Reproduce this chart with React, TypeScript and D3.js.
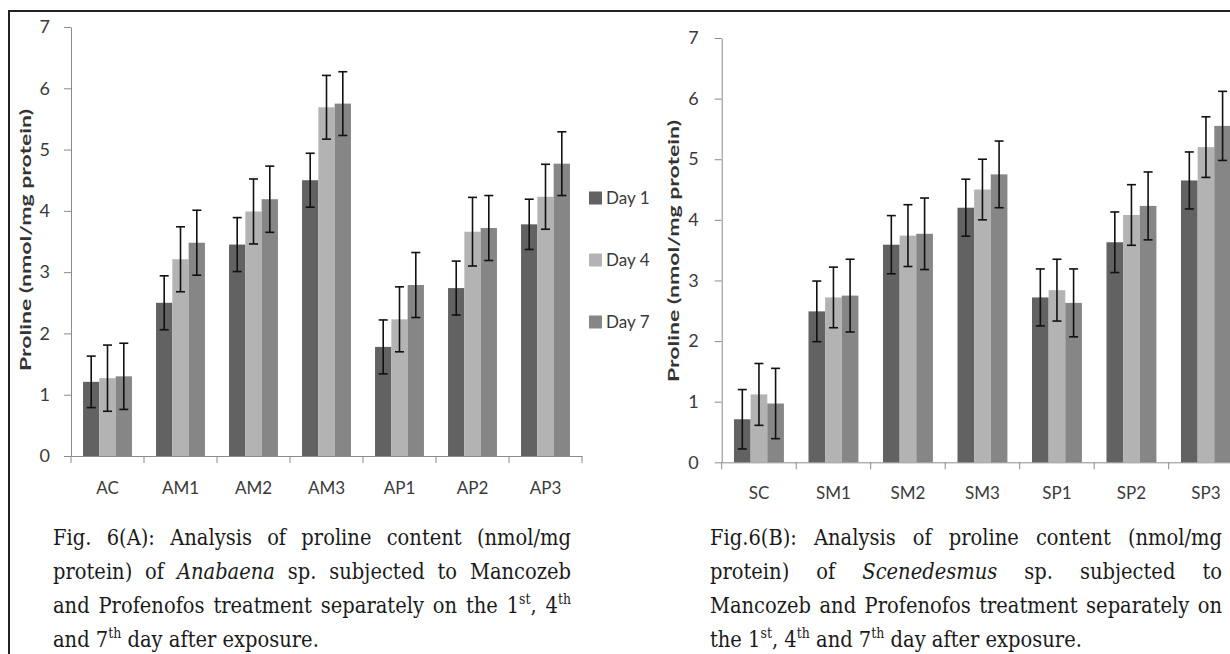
import { useEffect, useRef } from "react";
import * as d3 from "d3";

// series + colours
const days = ["Day 1", "Day 4", "Day 7"];
const dayColors = ["#626262", "#b3b3b3", "#868686"];
const yTicks = [0, 1, 2, 3, 4, 5, 6, 7];

// Fig 6(A) Anabaena
const catsA = ["AC", "AM1", "AM2", "AM3", "AP1", "AP2", "AP3"];
const day1A = [1.21, 2.5, 3.45, 4.5, 1.78, 2.74, 3.78];
const day4A = [1.27, 3.21, 3.99, 5.69, 2.23, 3.66, 4.23];
const day7A = [1.3, 3.48, 4.19, 5.75, 2.79, 3.72, 4.77];
const err1A = [0.42, 0.44, 0.44, 0.44, 0.44, 0.44, 0.41];
const err4A = [0.54, 0.53, 0.53, 0.52, 0.53, 0.56, 0.53];
const err7A = [0.54, 0.53, 0.54, 0.52, 0.53, 0.53, 0.52];

// Fig 6(B) Scenedesmus
const catsB = ["SC", "SM1", "SM2", "SM3", "SP1", "SP2", "SP3"];
const day1B = [0.71, 2.49, 3.59, 4.2, 2.72, 3.63, 4.65];
const day4B = [1.12, 2.72, 3.74, 4.5, 2.84, 4.08, 5.2];
const day7B = [0.97, 2.75, 3.77, 4.75, 2.63, 4.23, 5.55];
const err1B = [0.49, 0.5, 0.48, 0.47, 0.47, 0.5, 0.47];
const err4B = [0.51, 0.5, 0.51, 0.5, 0.51, 0.5, 0.5];
const err7B = [0.58, 0.6, 0.59, 0.55, 0.56, 0.56, 0.57];

const yTitle = "Proline (nmol/mg protein)";

// captions: _italic_ and ^superscript^
const captionA = [
  "Fig. 6(A): Analysis of proline content (nmol/mg",
  "protein) of _Anabaena_ sp. subjected to Mancozeb",
  "and Profenofos treatment separately on the 1^st^, 4^th^",
  "and 7^th^ day after exposure.",
];
const captionB = [
  "Fig.6(B): Analysis of proline content (nmol/mg",
  "protein) of _Scenedesmus_ sp. subjected to",
  "Mancozeb and Profenofos treatment separately on",
  "the 1^st^, 4^th^ and 7^th^ day after exposure.",
];

const SANS = "Lato, 'Open Sans', sans-serif";
const SERIF = "'DejaVu Serif', serif";

type Panel = {
  cats: string[];
  vals: number[][];
  errs: number[][];
  x0: number;
  x1: number;
  yBase: number;
  yTop: number;
  labelPad: number;
  tickPad: number;
  titleX: number;
  titleY: number;
};

function drawPanel(svg: any, p: Panel) {
  const x = d3.scaleBand().domain(p.cats).range([p.x0, p.x1]).paddingInner(0.33).paddingOuter(0.165);
  const xs = d3.scaleBand().domain(days).range([0, x.bandwidth()]);
  const y = d3.scaleLinear().domain([0, 7]).range([p.yBase, p.yTop]);

  const ya = svg.append("g").attr("transform", `translate(${p.x0},0)`)
    .call(d3.axisLeft(y).tickValues(yTicks).tickSize(7).tickSizeOuter(0).tickPadding(p.tickPad).tickFormat(d3.format("d")));
  ya.select(".domain").attr("stroke", "#8a8a8a");
  ya.selectAll(".tick line").attr("stroke", "#8a8a8a");
  ya.selectAll("text").attr("font-family", SANS).attr("font-size", 18).attr("fill", "#3a3a3a");

  const xa = svg.append("g").attr("transform", `translate(0,${p.yBase})`)
    .call(d3.axisBottom(x).tickSize(0).tickPadding(p.labelPad));
  xa.select(".domain").attr("stroke", "#8a8a8a");
  xa.selectAll("text").attr("font-family", SANS).attr("font-size", 17).attr("fill", "#3a3a3a");
  // boundary ticks between categories
  xa.selectAll(".bnd").data(d3.range(p.cats.length + 1)).join("line")
    .attr("x1", (i: number) => p.x0 + i * x.step()).attr("x2", (i: number) => p.x0 + i * x.step())
    .attr("y1", 0).attr("y2", 7).attr("stroke", "#8a8a8a");

  days.forEach((day, s) => {
    const g = svg.append("g");
    g.selectAll("rect").data(p.cats).join("rect")
      .attr("x", (c: string) => (x(c) as number) + (xs(day) as number))
      .attr("width", xs.bandwidth())
      .attr("y", (_: string, i: number) => y(p.vals[s][i]))
      .attr("height", (_: string, i: number) => p.yBase - y(p.vals[s][i]))
      .attr("fill", dayColors[s]);
  });

  days.forEach((day, s) => {
    const g = svg.append("g").attr("stroke", "#111").attr("stroke-width", 1.6);
    p.cats.forEach((c, i) => {
      const cx = (x(c) as number) + (xs(day) as number) + xs.bandwidth() / 2;
      const hi = y(p.vals[s][i] + p.errs[s][i]);
      const lo = y(p.vals[s][i] - p.errs[s][i]);
      g.append("line").attr("x1", cx).attr("x2", cx).attr("y1", hi).attr("y2", lo);
      g.append("line").attr("x1", cx - 4.5).attr("x2", cx + 4.5).attr("y1", hi).attr("y2", hi);
      g.append("line").attr("x1", cx - 4.5).attr("x2", cx + 4.5).attr("y1", lo).attr("y2", lo);
    });
  });

  svg.append("text")
    .attr("transform", `translate(${p.titleX},${p.titleY}) rotate(-90)`)
    .attr("text-anchor", "middle").attr("dy", "0.35em")
    .attr("font-family", SANS).attr("font-weight", 700).attr("font-size", 16).attr("fill", "#333")
    .attr("textLength", 262).attr("lengthAdjust", "spacingAndGlyphs")
    .text(yTitle);
}

function parseWord(w: string) {
  const segs: { t: string; i: boolean; sup: boolean }[] = [];
  const re = /(_[^_]+_|\^[^^]+\^|[^_^]+)/g;
  let m;
  while ((m = re.exec(w))) {
    const s = m[0];
    if (s.startsWith("_")) segs.push({ t: s.slice(1, -1), i: true, sup: false });
    else if (s.startsWith("^")) segs.push({ t: s.slice(1, -1), i: false, sup: true });
    else segs.push({ t: s, i: false, sup: false });
  }
  return segs;
}

function drawCaption(svg: any, lines: string[], left: number, right: number, top: number, lh: number) {
  lines.forEach((line, li) => {
    const justify = li < lines.length - 1;
    const g = svg.append("g").attr("transform", `translate(0,${top + li * lh}) scale(1,1.12)`);
    const words = line.split(" ").map((w) => {
      const t = g.append("text").attr("font-family", SERIF).attr("font-size", 19.5).attr("fill", "#1a1a1a");
      let raised = false;
      parseWord(w).forEach((sg) => {
        const ts = t.append("tspan").text(sg.t);
        if (sg.i) ts.attr("font-style", "italic");
        if (sg.sup) { ts.attr("font-size", 12.5).attr("dy", -8); raised = true; }
        else if (raised) { ts.attr("dy", 8); raised = false; }
      });
      return t;
    });
    const widths = words.map((t: any) => (t.node() as SVGTextElement).getComputedTextLength());
    const total = d3.sum(widths);
    const gap = justify ? (right - left - total) / (words.length - 1) : 6.2;
    let cx = left;
    words.forEach((t: any, k: number) => {
      t.attr("x", cx);
      cx += widths[k] + gap;
    });
  });
}

export default function App() {
  const ref = useRef<SVGSVGElement>(null);

  useEffect(() => {
    const svg = d3.select(ref.current);
    svg.selectAll("*").remove();

    svg.append("rect").attr("width", 1230).attr("height", 654).attr("fill", "#fff");
    // cropped frame
    svg.append("path").attr("d", "M9,654V11H1230").attr("fill", "none").attr("stroke", "#222").attr("stroke-width", 2);

    drawPanel(svg, {
      cats: catsA, vals: [day1A, day4A, day7A], errs: [err1A, err4A, err7A],
      x0: 71, x1: 582, yBase: 456, yTop: 27, labelPad: 26, tickPad: 14, titleX: 25, titleY: 240,
    });
    drawPanel(svg, {
      cats: catsB, vals: [day1B, day4B, day7B], errs: [err1B, err4B, err7B],
      x0: 721.7, x1: 1243.2, yBase: 462.3, yTop: 38, labelPad: 25, tickPad: 16, titleX: 673, titleY: 251,
    });

    // legend for panel A
    const lg = svg.append("g");
    days.forEach((d, i) => {
      const cy = 198 + i * 62;
      lg.append("rect").attr("x", 589).attr("y", cy - 6.5).attr("width", 13).attr("height", 13).attr("fill", dayColors[i]);
      lg.append("text").attr("x", 606).attr("y", cy).attr("dy", "0.36em")
        .attr("font-family", SANS).attr("font-size", 17).attr("fill", "#3a3a3a").text(d);
    });

    drawCaption(svg, captionA, 53, 571, 545, 34);
    drawCaption(svg, captionB, 710, 1222, 545, 34);
  }, []);

  return (
    <svg ref={ref} width={1230} height={654} style={{ position: "absolute", left: 0, top: 0 }} />
  );
}
